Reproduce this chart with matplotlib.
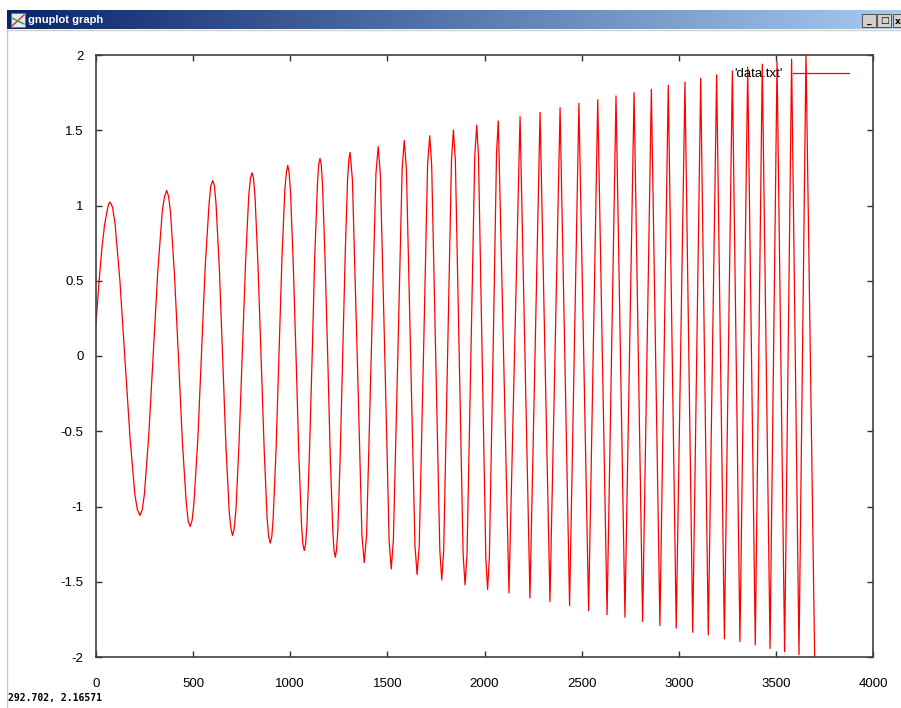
import matplotlib.pyplot as plt
import matplotlib.patches as mpatches
from matplotlib.colors import LinearSegmentedColormap
import numpy as np

plt.rcParams['font.family'] = ['Liberation Sans', 'DejaVu Sans']

# values (first waves with extra points, later only peaks/troughs)
x_early = [0, 16, 30, 44, 58, 65,
           72, 85, 98, 123, 149, 175, 200, 213,
           226, 238, 249, 272, 295, 318, 341, 353,
           364, 374, 384, 404, 425, 445, 465, 475,
           485, 495, 504, 524, 543, 562, 582, 591,
           601, 610, 618, 635, 652, 669, 686, 695,
           703, 711, 720, 736, 753, 770, 786, 795,
           803, 811, 819, 834, 850, 866, 881, 889,
           897, 905, 912, 927, 942, 957, 972, 980,
           987, 994, 1001, 1015, 1030, 1044, 1058, 1065,
           1072, 1079, 1086, 1099, 1113, 1126, 1140, 1146,
           1153, 1160, 1166, 1179, 1193, 1206, 1219, 1225,
           1232, 1238, 1245, 1257, 1270, 1283, 1295, 1302]
y_early = [0.215, 0.5, 0.71, 0.87, 0.97, 1.01,
           1.023, 0.99, 0.88, 0.50, -0.02, -0.54, -0.92, -1.02,
           -1.06, -1.02, -0.92, -0.52, 0.02, 0.56, 0.96, 1.06,
           1.10, 1.06, 0.95, 0.54, -0.02, -0.58, -0.98, -1.10,
           -1.133, -1.09, -0.98, -0.56, 0.02, 0.59, 1.01, 1.13,
           1.165, 1.13, 1.01, 0.58, -0.01, -0.60, -1.04, -1.15,
           -1.193, -1.15, -1.03, -0.59, 0.01, 0.62, 1.06, 1.18,
           1.218, 1.18, 1.05, 0.60, -0.01, -0.63, -1.08, -1.20,
           -1.244, -1.20, -1.08, -0.62, 0.01, 0.64, 1.10, 1.22,
           1.267, 1.22, 1.10, 0.63, -0.01, -0.65, -1.12, -1.25,
           -1.293, -1.25, -1.12, -0.64, 0.01, 0.66, 1.14, 1.27,
           1.313, 1.27, 1.14, 0.65, -0.01, -0.67, -1.16, -1.29,
           -1.337, -1.29, -1.16, -0.67, 0.01, 0.68, 1.17, 1.31]

x_mid = [1308, 1320, 1345, 1369, 1381, 1393, 1417, 1441,
         1453, 1464, 1487, 1509, 1520, 1531, 1554, 1576,
         1587, 1598, 1620, 1642, 1653, 1664, 1686, 1707,
         1718, 1728, 1749, 1770, 1780, 1790, 1810, 1830,
         1840, 1850, 1870, 1890, 1900, 1910, 1930, 1950,
         1960, 1969, 1988, 2007, 2016, 2025, 2044, 2062]
y_mid = [1.353, 1.17, -0.01, -1.19, -1.373, -1.19, 0.01, 1.21,
         1.391, 1.20, -0.01, -1.23, -1.415, -1.22, 0.01, 1.24,
         1.433, 1.24, -0.01, -1.26, -1.452, -1.26, 0.01, 1.27,
         1.464, 1.27, -0.01, -1.29, -1.488, -1.29, 0.01, 1.30,
         1.502, 1.30, -0.01, -1.32, -1.521, -1.32, 0.01, 1.33,
         1.533, 1.33, -0.01, -1.35, -1.552, -1.34, 0.01, 1.35]

x_late = [2071, 2126, 2183, 2234, 2286, 2337, 2389, 2438, 2486, 2536,
          2583, 2631, 2677, 2723, 2770, 2814, 2859, 2903, 2946, 2987,
          3032, 3072, 3113, 3152, 3195, 3235, 3276, 3315, 3355, 3394,
          3430, 3470, 3506, 3545, 3581, 3619, 3655, 3700]
y_late = [1.562, -1.574, 1.59, -1.608, 1.619, -1.632, 1.65, -1.659, 1.679, -1.692,
          1.703, -1.719, 1.728, -1.736, 1.75, -1.763, 1.772, -1.792, 1.799, -1.808,
          1.819, -1.836, 1.846, -1.854, 1.868, -1.88, 1.894, -1.898, 1.919, -1.92,
          1.939, -1.943, 1.956, -1.965, 1.972, -1.985, 2.01, -2.03]

x_all = x_early + x_mid + x_late
y_all = y_early + y_mid + y_late

W, H = 901, 708
fig = plt.figure(figsize=(W / 100, H / 100), dpi=100)
fig.patch.set_facecolor('white')

# window title bar (gradient)
tb = fig.add_axes([7 / W, 1 - 29 / H, (W - 7) / W, 19 / H])
grad = np.linspace(0, 1, 256).reshape(1, -1)
cm = LinearSegmentedColormap.from_list('tb', ['#0a246a', '#a6caf0'])
tb.imshow(grad, aspect='auto', cmap=cm, extent=[0, 1, 0, 1])
tb.set_axis_off()
fig.text(28 / W, 1 - 20 / H, 'gnuplot graph', color='white', fontsize=8,
         fontweight='bold', va='center', ha='left')
# little icon
fig.patches.append(mpatches.Rectangle((11 / W, 1 - 27 / H), 14 / W, 14 / H,
                                      transform=fig.transFigure, facecolor='#e8e8f0',
                                      edgecolor='#6070a0', lw=0.6))
fig.lines.append(plt.Line2D([12 / W, 24 / W], [1 - 26 / H, 1 - 15 / H],
                            transform=fig.transFigure, color='#d03030', lw=1))
fig.lines.append(plt.Line2D([12 / W, 24 / W], [1 - 18 / H, 1 - 24 / H],
                            transform=fig.transFigure, color='#30a030', lw=1))
# window buttons
for bx, tx, sym in [(862, 869, '_'), (877, 884, '□'), (893, 898, 'x')]:
    fig.patches.append(mpatches.Rectangle((bx / W, 1 - 27 / H), 14 / W, 13 / H,
                                          transform=fig.transFigure, facecolor='#d4d0c8',
                                          edgecolor='#404040', lw=0.6))
    fig.text(tx / W, 1 - 21 / H, sym, fontsize=6.5, fontweight='bold',
             ha='center', va='center', family=['DejaVu Sans'])
# left window border and top strip
fig.lines.append(plt.Line2D([7 / W, 7 / W], [0, 1 - 29 / H], transform=fig.transFigure,
                            color='#c8c8c8', lw=1))
fig.lines.append(plt.Line2D([7 / W, 1], [1 - 30 / H, 1 - 30 / H], transform=fig.transFigure,
                            color='#d4d0c8', lw=1))

ax = fig.add_axes([96 / W, 1 - 657 / H, 777 / W, 602 / H])
ax.plot(x_all, y_all, color='red', linewidth=0.9, label="'data.txt'")
ax.set_xlim(0, 4000)
ax.set_ylim(-2, 2)
ax.set_xticks(np.arange(0, 4001, 500))
ax.set_yticks(np.arange(-2, 2.01, 0.5))
ax.set_yticklabels(['-2', '-1.5', '-1', '-0.5', '0', '0.5', '1', '1.5', '2'])
ax.tick_params(direction='in', length=4.5, width=1, color='#303030',
               top=True, right=True, labelsize=9.5)
ax.tick_params(axis='x', pad=15)
ax.tick_params(axis='y', pad=9)
for s in ax.spines.values():
    s.set_color('#404040')
    s.set_linewidth(1.2)

ax.legend(loc='center right', bbox_to_anchor=(0.969, 0.968), frameon=False,
          markerfirst=False, fontsize=9.5, handlelength=4.2, handletextpad=0.8,
          borderpad=0, borderaxespad=0)

fig.text(8 / W, 1 - 698 / H, '292.702, 2.16571', fontsize=7, fontweight='bold',
         family=['DejaVu Sans Mono'], va='center', ha='left')

plt.savefig('out.png', dpi=100)
